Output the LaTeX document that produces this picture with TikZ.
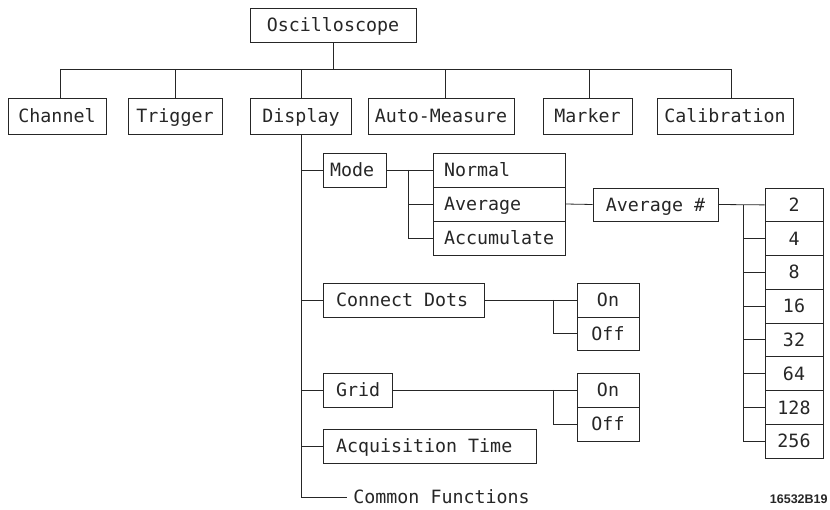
\documentclass[tikz,border=0pt]{standalone}
\usepackage{fontspec}
\newfontfamily\plotfont{DejaVu Sans Mono}
\newfontfamily\idfont{Liberation Sans}
\newcommand\padl[3]{\makebox[#1][l]{\hspace*{#2}#3}}
\begin{document}
\begin{tikzpicture}[x=1pt,y=-1pt,
  line width=0.8pt, draw=black!85,
  bx/.style={draw, rectangle, inner xsep=0pt, inner ysep=0pt, text height=13.2pt, text depth=0pt,
    font=\plotfont\fontsize{18.3}{20}\selectfont, text=black!85},
  lbl/.style={inner sep=0pt, text height=13.2pt, text depth=0pt, font=\plotfont\fontsize{18.3}{20}\selectfont, text=black!85}
]
\useasboundingbox (0,0) rectangle (830,510);

% top
\node[bx, minimum width=166pt, minimum height=34pt] (osc) at (333,25) {Oscilloscope};
\node[bx, minimum width=98pt, minimum height=36pt] (chan) at (57,116) {Channel};
\node[bx, minimum width=94pt, minimum height=36pt] (trig) at (175,116) {Trigger};
\node[bx, minimum width=101pt, minimum height=36pt] (disp) at (301,116) {Display};
\node[bx, minimum width=146pt, minimum height=36pt] (auto) at (441,116) {Auto-Measure};
\node[bx, minimum width=89pt, minimum height=36pt] (mark) at (587.5,116) {Marker};
\node[bx, minimum width=136pt, minimum height=36pt] (cal) at (725,116) {Calibration};

\coordinate (busL) at (60,69);
\coordinate (busR) at (731,69);
\draw (busL) -- (busR);
\draw (osc.south) -- (osc.south |- busL);
\draw (busL) -- (busL |- chan.north);
\draw (trig.north) -- (trig.north |- busL);
\draw (disp.north) -- (disp.north |- busL);
\draw ([xshift=4pt]auto.north) -- ([xshift=4pt]auto.north |- busL);
\draw ([xshift=1.5pt]mark.north) -- ([xshift=1.5pt]mark.north |- busL);
\draw (busR) -- (busR |- cal.north);

% display subtree
\node[bx, minimum width=63pt, minimum height=34pt] (mode) at (354.5,170) {\padl{63pt}{7pt}{Mode}};
\node[bx, minimum width=132pt, minimum height=34pt] (norm) at (499,170) {\padl{132pt}{11pt}{Normal}};
\node[bx, minimum width=132pt, minimum height=34pt] (avg) at (499,204) {\padl{132pt}{11pt}{Average}};
\node[bx, minimum width=132pt, minimum height=34pt] (acc) at (499,238) {\padl{132pt}{11pt}{Accumulate}};
\node[bx, minimum width=125pt, minimum height=33pt] (avgn) at (655.5,204.5) {Average \#};

\foreach \v [count=\i from 0] in {2,4,8,16,32,64,128,256}{
  \node[bx, minimum width=58pt, minimum height=33.75pt] (n\v) at (794,{204.9+\i*33.75}) {\v};
}

\node[bx, minimum width=161pt, minimum height=34pt] (cd) at (403.5,300) {\padl{161pt}{13pt}{Connect Dots}};
\node[bx, minimum width=62pt, minimum height=34pt] (cdon) at (608,300) {On};
\node[bx, minimum width=62pt, minimum height=33.5pt] (cdoff) at (608,333.75) {Off};

\node[bx, minimum width=69pt, minimum height=34pt] (grid) at (357.5,390) {\padl{69pt}{13pt}{Grid}};
\node[bx, minimum width=62pt, minimum height=34pt] (gon) at (608,390) {On};
\node[bx, minimum width=62pt, minimum height=34pt] (goff) at (608,424) {Off};

\node[bx, minimum width=213pt, minimum height=34pt] (acq) at (429.5,446) {\padl{213pt}{13pt}{Acquisition Time}};

\node[lbl, anchor=west] (cf) at (353,497) {Common Functions};
\coordinate (dend) at (301,497);

\node[inner sep=0pt, anchor=east, font=\idfont\bfseries\fontsize{12.5}{14}\selectfont, text=black!85] (fig) at (828,499) {16532B19};

% display stem
\draw (disp.south) -- (dend) -- ([xshift=-6pt]cf.west);
\draw (disp.south |- mode.west) -- (mode.west);
\draw (disp.south |- cd.west) -- (cd.west);
\draw (disp.south |- grid.west) -- (grid.west);
\draw (disp.south |- acq.west) -- (acq.west);

% mode branch
\coordinate (mb) at (408,170);
\draw (mode.east) -- (norm.west);
\draw (mb) |- (acc.west);
\draw (mb |- avg.west) -- (avg.west);
\draw (avg.east) -- (avgn.west);

% average # branch
\coordinate (ab) at (743,204.9);
\draw (avgn.east) -- (n2.west);
\draw (ab) |- (n256.west);
\foreach \v in {4,8,16,32,64,128}{
  \draw (ab |- n\v.west) -- (n\v.west);
}

% connect dots branch
\coordinate (cb) at (553,300);
\draw (cd.east) -- (cdon.west);
\draw (cb) |- (cdoff.west);

% grid branch
\coordinate (gb) at (553,390);
\draw (grid.east) -- (gon.west);
\draw (gb) |- (goff.west);
\end{tikzpicture}
\end{document}
